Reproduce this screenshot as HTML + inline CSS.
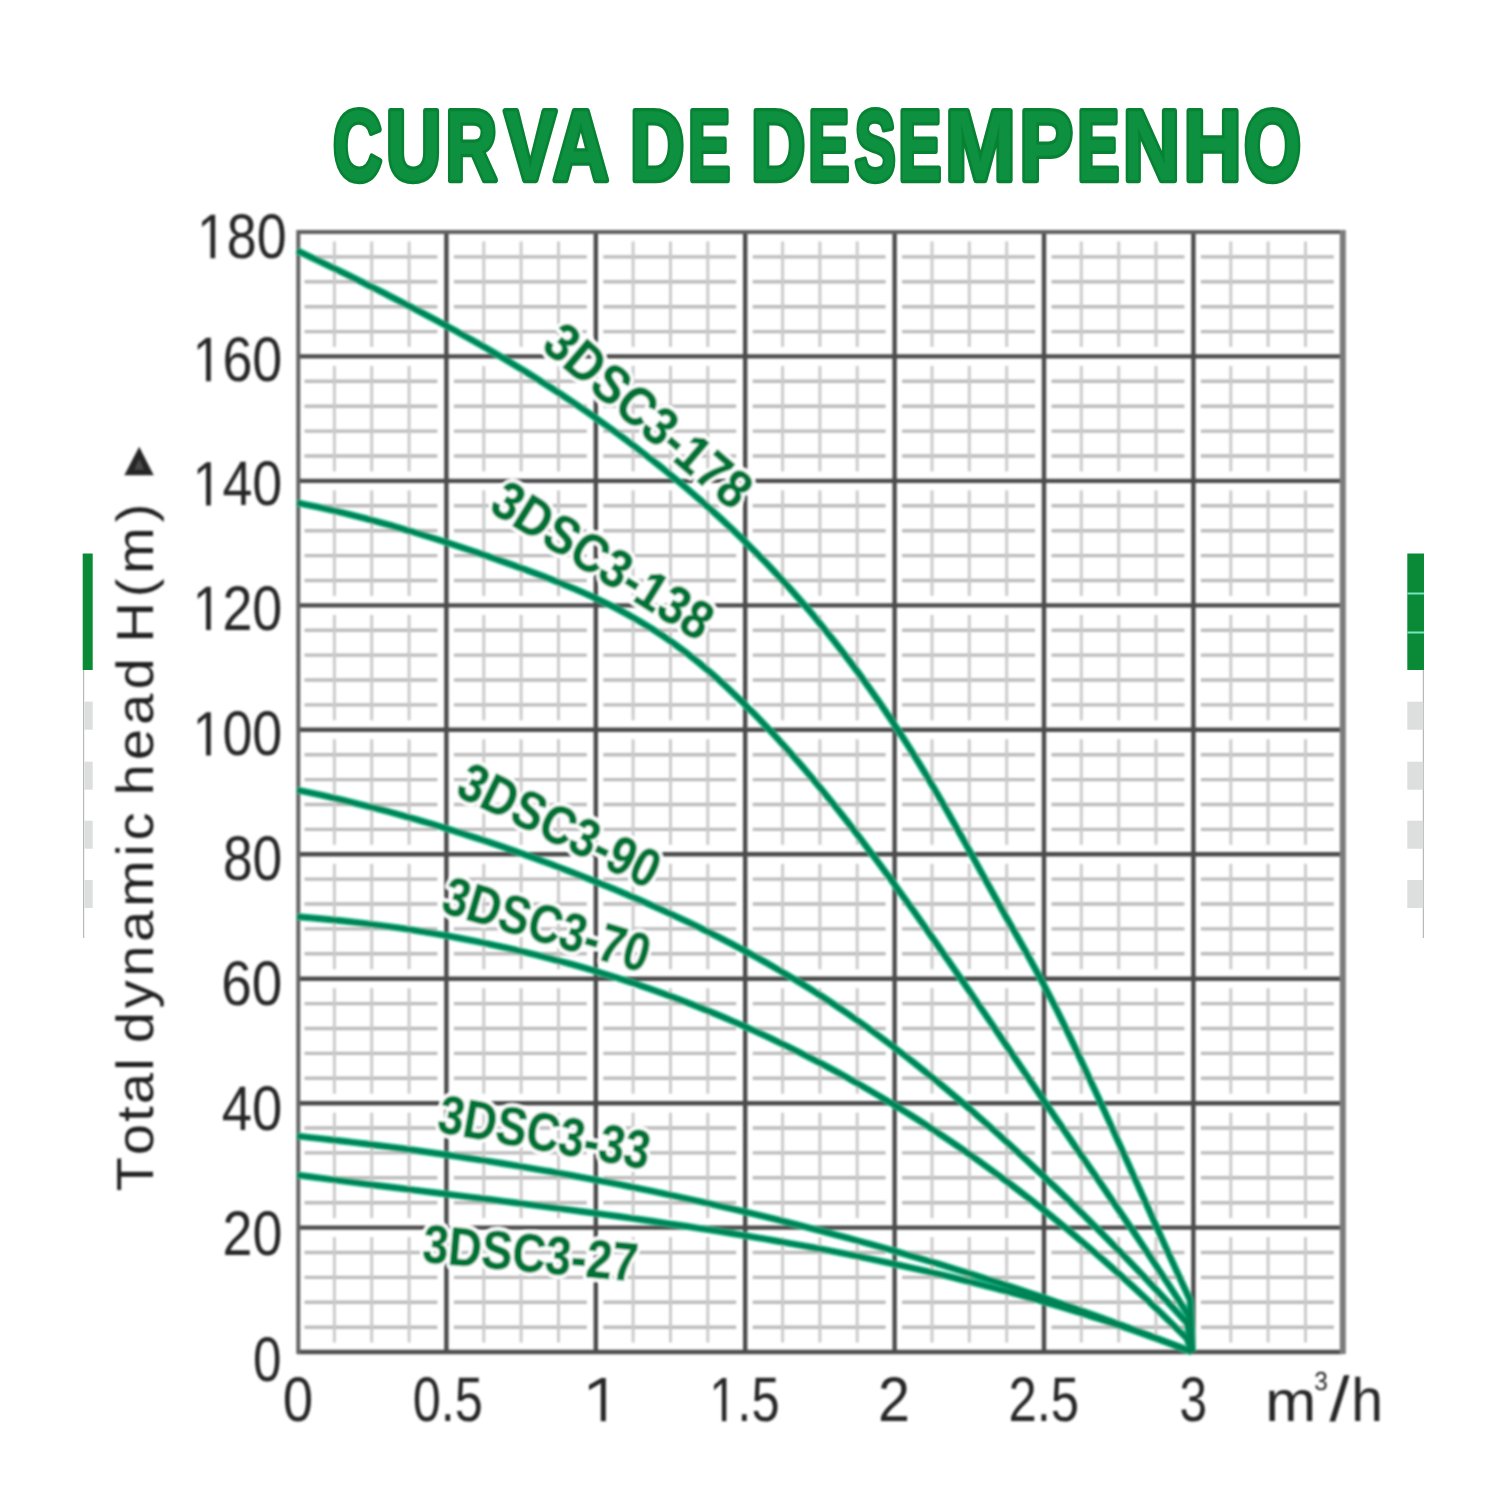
<!DOCTYPE html>
<html><head><meta charset="utf-8"><title>Curva de desempenho</title>
<style>html,body{margin:0;padding:0;background:#fff;}body{width:1500px;height:1500px;overflow:hidden;font-family:"Liberation Sans",sans-serif;}svg{display:block;}text{font-family:"Liberation Sans",sans-serif;font-kerning:none;text-rendering:geometricPrecision;}</style></head><body>
<svg width="1500" height="1500" viewBox="0 0 1500 1500">
<defs><filter id="soft" x="0" y="0" width="1500" height="1500" filterUnits="userSpaceOnUse"><feGaussianBlur stdDeviation="0.8"/></filter></defs>
<rect width="1500" height="1500" fill="#fff"/>
<g filter="url(#soft)">
<g id="grid" fill="none">
<g stroke="#bbbbbb" stroke-width="3.4">
<path d="M304.5 256.9H437.4"/>
<path d="M453.9 256.9H586.8"/>
<path d="M603.3 256.9H736.2"/>
<path d="M752.7 256.9H885.6"/>
<path d="M902.1 256.9H1035.0"/>
<path d="M1051.5 256.9H1184.4"/>
<path d="M1200.9 256.9H1333.8"/>
<path d="M304.5 281.8H437.4"/>
<path d="M453.9 281.8H586.8"/>
<path d="M603.3 281.8H736.2"/>
<path d="M752.7 281.8H885.6"/>
<path d="M902.1 281.8H1035.0"/>
<path d="M1051.5 281.8H1184.4"/>
<path d="M1200.9 281.8H1333.8"/>
<path d="M304.5 306.7H437.4"/>
<path d="M453.9 306.7H586.8"/>
<path d="M603.3 306.7H736.2"/>
<path d="M752.7 306.7H885.6"/>
<path d="M902.1 306.7H1035.0"/>
<path d="M1051.5 306.7H1184.4"/>
<path d="M1200.9 306.7H1333.8"/>
<path d="M304.5 331.6H437.4"/>
<path d="M453.9 331.6H586.8"/>
<path d="M603.3 331.6H736.2"/>
<path d="M752.7 331.6H885.6"/>
<path d="M902.1 331.6H1035.0"/>
<path d="M1051.5 331.6H1184.4"/>
<path d="M1200.9 331.6H1333.8"/>
<path d="M304.5 381.3H437.4"/>
<path d="M453.9 381.3H586.8"/>
<path d="M603.3 381.3H736.2"/>
<path d="M752.7 381.3H885.6"/>
<path d="M902.1 381.3H1035.0"/>
<path d="M1051.5 381.3H1184.4"/>
<path d="M1200.9 381.3H1333.8"/>
<path d="M304.5 406.2H437.4"/>
<path d="M453.9 406.2H586.8"/>
<path d="M603.3 406.2H736.2"/>
<path d="M752.7 406.2H885.6"/>
<path d="M902.1 406.2H1035.0"/>
<path d="M1051.5 406.2H1184.4"/>
<path d="M1200.9 406.2H1333.8"/>
<path d="M304.5 431.1H437.4"/>
<path d="M453.9 431.1H586.8"/>
<path d="M603.3 431.1H736.2"/>
<path d="M752.7 431.1H885.6"/>
<path d="M902.1 431.1H1035.0"/>
<path d="M1051.5 431.1H1184.4"/>
<path d="M1200.9 431.1H1333.8"/>
<path d="M304.5 456.0H437.4"/>
<path d="M453.9 456.0H586.8"/>
<path d="M603.3 456.0H736.2"/>
<path d="M752.7 456.0H885.6"/>
<path d="M902.1 456.0H1035.0"/>
<path d="M1051.5 456.0H1184.4"/>
<path d="M1200.9 456.0H1333.8"/>
<path d="M304.5 505.8H437.4"/>
<path d="M453.9 505.8H586.8"/>
<path d="M603.3 505.8H736.2"/>
<path d="M752.7 505.8H885.6"/>
<path d="M902.1 505.8H1035.0"/>
<path d="M1051.5 505.8H1184.4"/>
<path d="M1200.9 505.8H1333.8"/>
<path d="M304.5 530.7H437.4"/>
<path d="M453.9 530.7H586.8"/>
<path d="M603.3 530.7H736.2"/>
<path d="M752.7 530.7H885.6"/>
<path d="M902.1 530.7H1035.0"/>
<path d="M1051.5 530.7H1184.4"/>
<path d="M1200.9 530.7H1333.8"/>
<path d="M304.5 555.6H437.4"/>
<path d="M453.9 555.6H586.8"/>
<path d="M603.3 555.6H736.2"/>
<path d="M752.7 555.6H885.6"/>
<path d="M902.1 555.6H1035.0"/>
<path d="M1051.5 555.6H1184.4"/>
<path d="M1200.9 555.6H1333.8"/>
<path d="M304.5 580.5H437.4"/>
<path d="M453.9 580.5H586.8"/>
<path d="M603.3 580.5H736.2"/>
<path d="M752.7 580.5H885.6"/>
<path d="M902.1 580.5H1035.0"/>
<path d="M1051.5 580.5H1184.4"/>
<path d="M1200.9 580.5H1333.8"/>
<path d="M304.5 630.2H437.4"/>
<path d="M453.9 630.2H586.8"/>
<path d="M603.3 630.2H736.2"/>
<path d="M752.7 630.2H885.6"/>
<path d="M902.1 630.2H1035.0"/>
<path d="M1051.5 630.2H1184.4"/>
<path d="M1200.9 630.2H1333.8"/>
<path d="M304.5 655.1H437.4"/>
<path d="M453.9 655.1H586.8"/>
<path d="M603.3 655.1H736.2"/>
<path d="M752.7 655.1H885.6"/>
<path d="M902.1 655.1H1035.0"/>
<path d="M1051.5 655.1H1184.4"/>
<path d="M1200.9 655.1H1333.8"/>
<path d="M304.5 680.0H437.4"/>
<path d="M453.9 680.0H586.8"/>
<path d="M603.3 680.0H736.2"/>
<path d="M752.7 680.0H885.6"/>
<path d="M902.1 680.0H1035.0"/>
<path d="M1051.5 680.0H1184.4"/>
<path d="M1200.9 680.0H1333.8"/>
<path d="M304.5 704.9H437.4"/>
<path d="M453.9 704.9H586.8"/>
<path d="M603.3 704.9H736.2"/>
<path d="M752.7 704.9H885.6"/>
<path d="M902.1 704.9H1035.0"/>
<path d="M1051.5 704.9H1184.4"/>
<path d="M1200.9 704.9H1333.8"/>
<path d="M304.5 754.7H437.4"/>
<path d="M453.9 754.7H586.8"/>
<path d="M603.3 754.7H736.2"/>
<path d="M752.7 754.7H885.6"/>
<path d="M902.1 754.7H1035.0"/>
<path d="M1051.5 754.7H1184.4"/>
<path d="M1200.9 754.7H1333.8"/>
<path d="M304.5 779.6H437.4"/>
<path d="M453.9 779.6H586.8"/>
<path d="M603.3 779.6H736.2"/>
<path d="M752.7 779.6H885.6"/>
<path d="M902.1 779.6H1035.0"/>
<path d="M1051.5 779.6H1184.4"/>
<path d="M1200.9 779.6H1333.8"/>
<path d="M304.5 804.5H437.4"/>
<path d="M453.9 804.5H586.8"/>
<path d="M603.3 804.5H736.2"/>
<path d="M752.7 804.5H885.6"/>
<path d="M902.1 804.5H1035.0"/>
<path d="M1051.5 804.5H1184.4"/>
<path d="M1200.9 804.5H1333.8"/>
<path d="M304.5 829.4H437.4"/>
<path d="M453.9 829.4H586.8"/>
<path d="M603.3 829.4H736.2"/>
<path d="M752.7 829.4H885.6"/>
<path d="M902.1 829.4H1035.0"/>
<path d="M1051.5 829.4H1184.4"/>
<path d="M1200.9 829.4H1333.8"/>
<path d="M304.5 879.1H437.4"/>
<path d="M453.9 879.1H586.8"/>
<path d="M603.3 879.1H736.2"/>
<path d="M752.7 879.1H885.6"/>
<path d="M902.1 879.1H1035.0"/>
<path d="M1051.5 879.1H1184.4"/>
<path d="M1200.9 879.1H1333.8"/>
<path d="M304.5 904.0H437.4"/>
<path d="M453.9 904.0H586.8"/>
<path d="M603.3 904.0H736.2"/>
<path d="M752.7 904.0H885.6"/>
<path d="M902.1 904.0H1035.0"/>
<path d="M1051.5 904.0H1184.4"/>
<path d="M1200.9 904.0H1333.8"/>
<path d="M304.5 928.9H437.4"/>
<path d="M453.9 928.9H586.8"/>
<path d="M603.3 928.9H736.2"/>
<path d="M752.7 928.9H885.6"/>
<path d="M902.1 928.9H1035.0"/>
<path d="M1051.5 928.9H1184.4"/>
<path d="M1200.9 928.9H1333.8"/>
<path d="M304.5 953.8H437.4"/>
<path d="M453.9 953.8H586.8"/>
<path d="M603.3 953.8H736.2"/>
<path d="M752.7 953.8H885.6"/>
<path d="M902.1 953.8H1035.0"/>
<path d="M1051.5 953.8H1184.4"/>
<path d="M1200.9 953.8H1333.8"/>
<path d="M304.5 1003.6H437.4"/>
<path d="M453.9 1003.6H586.8"/>
<path d="M603.3 1003.6H736.2"/>
<path d="M752.7 1003.6H885.6"/>
<path d="M902.1 1003.6H1035.0"/>
<path d="M1051.5 1003.6H1184.4"/>
<path d="M1200.9 1003.6H1333.8"/>
<path d="M304.5 1028.5H437.4"/>
<path d="M453.9 1028.5H586.8"/>
<path d="M603.3 1028.5H736.2"/>
<path d="M752.7 1028.5H885.6"/>
<path d="M902.1 1028.5H1035.0"/>
<path d="M1051.5 1028.5H1184.4"/>
<path d="M1200.9 1028.5H1333.8"/>
<path d="M304.5 1053.4H437.4"/>
<path d="M453.9 1053.4H586.8"/>
<path d="M603.3 1053.4H736.2"/>
<path d="M752.7 1053.4H885.6"/>
<path d="M902.1 1053.4H1035.0"/>
<path d="M1051.5 1053.4H1184.4"/>
<path d="M1200.9 1053.4H1333.8"/>
<path d="M304.5 1078.3H437.4"/>
<path d="M453.9 1078.3H586.8"/>
<path d="M603.3 1078.3H736.2"/>
<path d="M752.7 1078.3H885.6"/>
<path d="M902.1 1078.3H1035.0"/>
<path d="M1051.5 1078.3H1184.4"/>
<path d="M1200.9 1078.3H1333.8"/>
<path d="M304.5 1128.0H437.4"/>
<path d="M453.9 1128.0H586.8"/>
<path d="M603.3 1128.0H736.2"/>
<path d="M752.7 1128.0H885.6"/>
<path d="M902.1 1128.0H1035.0"/>
<path d="M1051.5 1128.0H1184.4"/>
<path d="M1200.9 1128.0H1333.8"/>
<path d="M304.5 1152.9H437.4"/>
<path d="M453.9 1152.9H586.8"/>
<path d="M603.3 1152.9H736.2"/>
<path d="M752.7 1152.9H885.6"/>
<path d="M902.1 1152.9H1035.0"/>
<path d="M1051.5 1152.9H1184.4"/>
<path d="M1200.9 1152.9H1333.8"/>
<path d="M304.5 1177.8H437.4"/>
<path d="M453.9 1177.8H586.8"/>
<path d="M603.3 1177.8H736.2"/>
<path d="M752.7 1177.8H885.6"/>
<path d="M902.1 1177.8H1035.0"/>
<path d="M1051.5 1177.8H1184.4"/>
<path d="M1200.9 1177.8H1333.8"/>
<path d="M304.5 1202.7H437.4"/>
<path d="M453.9 1202.7H586.8"/>
<path d="M603.3 1202.7H736.2"/>
<path d="M752.7 1202.7H885.6"/>
<path d="M902.1 1202.7H1035.0"/>
<path d="M1051.5 1202.7H1184.4"/>
<path d="M1200.9 1202.7H1333.8"/>
<path d="M304.5 1252.5H437.4"/>
<path d="M453.9 1252.5H586.8"/>
<path d="M603.3 1252.5H736.2"/>
<path d="M752.7 1252.5H885.6"/>
<path d="M902.1 1252.5H1035.0"/>
<path d="M1051.5 1252.5H1184.4"/>
<path d="M1200.9 1252.5H1333.8"/>
<path d="M304.5 1277.4H437.4"/>
<path d="M453.9 1277.4H586.8"/>
<path d="M603.3 1277.4H736.2"/>
<path d="M752.7 1277.4H885.6"/>
<path d="M902.1 1277.4H1035.0"/>
<path d="M1051.5 1277.4H1184.4"/>
<path d="M1200.9 1277.4H1333.8"/>
<path d="M304.5 1302.3H437.4"/>
<path d="M453.9 1302.3H586.8"/>
<path d="M603.3 1302.3H736.2"/>
<path d="M752.7 1302.3H885.6"/>
<path d="M902.1 1302.3H1035.0"/>
<path d="M1051.5 1302.3H1184.4"/>
<path d="M1200.9 1302.3H1333.8"/>
<path d="M304.5 1327.2H437.4"/>
<path d="M453.9 1327.2H586.8"/>
<path d="M603.3 1327.2H736.2"/>
<path d="M752.7 1327.2H885.6"/>
<path d="M902.1 1327.2H1035.0"/>
<path d="M1051.5 1327.2H1184.4"/>
<path d="M1200.9 1327.2H1333.8"/>
</g>
<g stroke="#cbcbcb" stroke-width="3">
<path d="M334.4 241.5V346.9"/>
<path d="M334.4 365.9V471.4"/>
<path d="M334.4 490.4V595.9"/>
<path d="M334.4 614.9V720.3"/>
<path d="M334.4 739.3V844.8"/>
<path d="M334.4 863.8V969.2"/>
<path d="M334.4 988.2V1093.7"/>
<path d="M334.4 1112.7V1218.1"/>
<path d="M334.4 1237.1V1342.5"/>
<path d="M371.7 241.5V346.9"/>
<path d="M371.7 365.9V471.4"/>
<path d="M371.7 490.4V595.9"/>
<path d="M371.7 614.9V720.3"/>
<path d="M371.7 739.3V844.8"/>
<path d="M371.7 863.8V969.2"/>
<path d="M371.7 988.2V1093.7"/>
<path d="M371.7 1112.7V1218.1"/>
<path d="M371.7 1237.1V1342.5"/>
<path d="M409.1 241.5V346.9"/>
<path d="M409.1 365.9V471.4"/>
<path d="M409.1 490.4V595.9"/>
<path d="M409.1 614.9V720.3"/>
<path d="M409.1 739.3V844.8"/>
<path d="M409.1 863.8V969.2"/>
<path d="M409.1 988.2V1093.7"/>
<path d="M409.1 1112.7V1218.1"/>
<path d="M409.1 1237.1V1342.5"/>
<path d="M483.8 241.5V346.9"/>
<path d="M483.8 365.9V471.4"/>
<path d="M483.8 490.4V595.9"/>
<path d="M483.8 614.9V720.3"/>
<path d="M483.8 739.3V844.8"/>
<path d="M483.8 863.8V969.2"/>
<path d="M483.8 988.2V1093.7"/>
<path d="M483.8 1112.7V1218.1"/>
<path d="M483.8 1237.1V1342.5"/>
<path d="M521.1 241.5V346.9"/>
<path d="M521.1 365.9V471.4"/>
<path d="M521.1 490.4V595.9"/>
<path d="M521.1 614.9V720.3"/>
<path d="M521.1 739.3V844.8"/>
<path d="M521.1 863.8V969.2"/>
<path d="M521.1 988.2V1093.7"/>
<path d="M521.1 1112.7V1218.1"/>
<path d="M521.1 1237.1V1342.5"/>
<path d="M558.5 241.5V346.9"/>
<path d="M558.5 365.9V471.4"/>
<path d="M558.5 490.4V595.9"/>
<path d="M558.5 614.9V720.3"/>
<path d="M558.5 739.3V844.8"/>
<path d="M558.5 863.8V969.2"/>
<path d="M558.5 988.2V1093.7"/>
<path d="M558.5 1112.7V1218.1"/>
<path d="M558.5 1237.1V1342.5"/>
<path d="M633.1 241.5V346.9"/>
<path d="M633.1 365.9V471.4"/>
<path d="M633.1 490.4V595.9"/>
<path d="M633.1 614.9V720.3"/>
<path d="M633.1 739.3V844.8"/>
<path d="M633.1 863.8V969.2"/>
<path d="M633.1 988.2V1093.7"/>
<path d="M633.1 1112.7V1218.1"/>
<path d="M633.1 1237.1V1342.5"/>
<path d="M670.5 241.5V346.9"/>
<path d="M670.5 365.9V471.4"/>
<path d="M670.5 490.4V595.9"/>
<path d="M670.5 614.9V720.3"/>
<path d="M670.5 739.3V844.8"/>
<path d="M670.5 863.8V969.2"/>
<path d="M670.5 988.2V1093.7"/>
<path d="M670.5 1112.7V1218.1"/>
<path d="M670.5 1237.1V1342.5"/>
<path d="M707.8 241.5V346.9"/>
<path d="M707.8 365.9V471.4"/>
<path d="M707.8 490.4V595.9"/>
<path d="M707.8 614.9V720.3"/>
<path d="M707.8 739.3V844.8"/>
<path d="M707.8 863.8V969.2"/>
<path d="M707.8 988.2V1093.7"/>
<path d="M707.8 1112.7V1218.1"/>
<path d="M707.8 1237.1V1342.5"/>
<path d="M782.6 241.5V346.9"/>
<path d="M782.6 365.9V471.4"/>
<path d="M782.6 490.4V595.9"/>
<path d="M782.6 614.9V720.3"/>
<path d="M782.6 739.3V844.8"/>
<path d="M782.6 863.8V969.2"/>
<path d="M782.6 988.2V1093.7"/>
<path d="M782.6 1112.7V1218.1"/>
<path d="M782.6 1237.1V1342.5"/>
<path d="M819.9 241.5V346.9"/>
<path d="M819.9 365.9V471.4"/>
<path d="M819.9 490.4V595.9"/>
<path d="M819.9 614.9V720.3"/>
<path d="M819.9 739.3V844.8"/>
<path d="M819.9 863.8V969.2"/>
<path d="M819.9 988.2V1093.7"/>
<path d="M819.9 1112.7V1218.1"/>
<path d="M819.9 1237.1V1342.5"/>
<path d="M857.2 241.5V346.9"/>
<path d="M857.2 365.9V471.4"/>
<path d="M857.2 490.4V595.9"/>
<path d="M857.2 614.9V720.3"/>
<path d="M857.2 739.3V844.8"/>
<path d="M857.2 863.8V969.2"/>
<path d="M857.2 988.2V1093.7"/>
<path d="M857.2 1112.7V1218.1"/>
<path d="M857.2 1237.1V1342.5"/>
<path d="M932.0 241.5V346.9"/>
<path d="M932.0 365.9V471.4"/>
<path d="M932.0 490.4V595.9"/>
<path d="M932.0 614.9V720.3"/>
<path d="M932.0 739.3V844.8"/>
<path d="M932.0 863.8V969.2"/>
<path d="M932.0 988.2V1093.7"/>
<path d="M932.0 1112.7V1218.1"/>
<path d="M932.0 1237.1V1342.5"/>
<path d="M969.3 241.5V346.9"/>
<path d="M969.3 365.9V471.4"/>
<path d="M969.3 490.4V595.9"/>
<path d="M969.3 614.9V720.3"/>
<path d="M969.3 739.3V844.8"/>
<path d="M969.3 863.8V969.2"/>
<path d="M969.3 988.2V1093.7"/>
<path d="M969.3 1112.7V1218.1"/>
<path d="M969.3 1237.1V1342.5"/>
<path d="M1006.7 241.5V346.9"/>
<path d="M1006.7 365.9V471.4"/>
<path d="M1006.7 490.4V595.9"/>
<path d="M1006.7 614.9V720.3"/>
<path d="M1006.7 739.3V844.8"/>
<path d="M1006.7 863.8V969.2"/>
<path d="M1006.7 988.2V1093.7"/>
<path d="M1006.7 1112.7V1218.1"/>
<path d="M1006.7 1237.1V1342.5"/>
<path d="M1081.3 241.5V346.9"/>
<path d="M1081.3 365.9V471.4"/>
<path d="M1081.3 490.4V595.9"/>
<path d="M1081.3 614.9V720.3"/>
<path d="M1081.3 739.3V844.8"/>
<path d="M1081.3 863.8V969.2"/>
<path d="M1081.3 988.2V1093.7"/>
<path d="M1081.3 1112.7V1218.1"/>
<path d="M1081.3 1237.1V1342.5"/>
<path d="M1118.7 241.5V346.9"/>
<path d="M1118.7 365.9V471.4"/>
<path d="M1118.7 490.4V595.9"/>
<path d="M1118.7 614.9V720.3"/>
<path d="M1118.7 739.3V844.8"/>
<path d="M1118.7 863.8V969.2"/>
<path d="M1118.7 988.2V1093.7"/>
<path d="M1118.7 1112.7V1218.1"/>
<path d="M1118.7 1237.1V1342.5"/>
<path d="M1156.0 241.5V346.9"/>
<path d="M1156.0 365.9V471.4"/>
<path d="M1156.0 490.4V595.9"/>
<path d="M1156.0 614.9V720.3"/>
<path d="M1156.0 739.3V844.8"/>
<path d="M1156.0 863.8V969.2"/>
<path d="M1156.0 988.2V1093.7"/>
<path d="M1156.0 1112.7V1218.1"/>
<path d="M1156.0 1237.1V1342.5"/>
<path d="M1230.8 241.5V346.9"/>
<path d="M1230.8 365.9V471.4"/>
<path d="M1230.8 490.4V595.9"/>
<path d="M1230.8 614.9V720.3"/>
<path d="M1230.8 739.3V844.8"/>
<path d="M1230.8 863.8V969.2"/>
<path d="M1230.8 988.2V1093.7"/>
<path d="M1230.8 1112.7V1218.1"/>
<path d="M1230.8 1237.1V1342.5"/>
<path d="M1268.1 241.5V346.9"/>
<path d="M1268.1 365.9V471.4"/>
<path d="M1268.1 490.4V595.9"/>
<path d="M1268.1 614.9V720.3"/>
<path d="M1268.1 739.3V844.8"/>
<path d="M1268.1 863.8V969.2"/>
<path d="M1268.1 988.2V1093.7"/>
<path d="M1268.1 1112.7V1218.1"/>
<path d="M1268.1 1237.1V1342.5"/>
<path d="M1305.5 241.5V346.9"/>
<path d="M1305.5 365.9V471.4"/>
<path d="M1305.5 490.4V595.9"/>
<path d="M1305.5 614.9V720.3"/>
<path d="M1305.5 739.3V844.8"/>
<path d="M1305.5 863.8V969.2"/>
<path d="M1305.5 988.2V1093.7"/>
<path d="M1305.5 1112.7V1218.1"/>
<path d="M1305.5 1237.1V1342.5"/>
</g>
<g stroke="#4c4c4c" stroke-width="4.4">
<path d="M446.4 232.0V1352.0"/>
<path d="M595.8 232.0V1352.0"/>
<path d="M745.2 232.0V1352.0"/>
<path d="M894.6 232.0V1352.0"/>
<path d="M1044.0 232.0V1352.0"/>
<path d="M1193.4 232.0V1352.0"/>
<path d="M297.0 356.4H1342.8"/>
<path d="M297.0 480.9H1342.8"/>
<path d="M297.0 605.4H1342.8"/>
<path d="M297.0 729.8H1342.8"/>
<path d="M297.0 854.2H1342.8"/>
<path d="M297.0 978.7H1342.8"/>
<path d="M297.0 1103.2H1342.8"/>
<path d="M297.0 1227.6H1342.8"/>
</g>
<path d="M297.0 232.0H1342.8" stroke="#606060" stroke-width="4.2"/>
<path d="M297.0 1352.0H1342.8" stroke="#4e4e4e" stroke-width="4.5"/>
<path d="M298.3 230.0V1354.0" stroke="#646464" stroke-width="4"/>
<path d="M1342.8 230.0V1354.0" stroke="#7c7c7c" stroke-width="6"/>
</g>
<g id="curves" fill="none" stroke-linecap="butt" stroke-linejoin="round">
<g stroke="#14b384" stroke-width="7.2">
<path d="M297.0 250.5C300.8 252.3 312.3 257.8 319.9 261.5C327.5 265.2 335.2 268.9 342.8 272.6C350.4 276.4 358.1 280.1 365.7 284.0C373.3 287.8 381.0 291.6 388.6 295.5C396.2 299.4 403.9 303.3 411.5 307.3C419.1 311.2 426.8 315.3 434.4 319.4C442.0 323.4 449.6 327.6 457.3 331.8C464.9 336.0 472.5 340.3 480.2 344.7C487.8 349.1 495.4 353.5 503.1 358.1C510.7 362.6 518.3 367.2 526.0 371.9C533.6 376.7 541.2 381.5 548.9 386.4C556.5 391.3 564.1 396.3 571.8 401.5C579.4 406.6 587.0 411.8 594.7 417.2C602.3 422.6 609.9 428.1 617.6 433.7C625.2 439.3 632.8 445.1 640.5 451.0C648.1 456.8 655.7 462.9 663.4 469.0C671.0 475.2 678.6 481.5 686.3 488.0C693.9 494.5 701.5 501.1 709.2 508.0C716.8 514.8 724.4 521.8 732.1 529.1C739.7 536.3 747.3 543.8 754.9 551.5C762.6 559.2 770.2 567.1 777.8 575.3C785.5 583.5 793.1 591.9 800.7 600.7C808.4 609.5 816.0 618.5 823.6 627.9C831.3 637.3 838.9 646.9 846.5 657.0C854.2 667.0 861.8 677.3 869.4 688.1C877.1 698.8 884.7 709.9 892.3 721.4C900.0 732.9 907.6 744.7 915.2 757.0C922.9 769.4 930.5 782.1 938.1 795.2C945.8 808.3 953.4 822.0 961.0 835.6C968.7 849.2 976.3 863.3 983.9 877.0C991.6 890.8 999.2 904.6 1006.8 918.2C1014.5 931.8 1022.1 944.8 1029.7 958.7C1037.4 972.7 1045.0 986.7 1052.6 1001.7C1060.2 1016.6 1067.9 1032.4 1075.5 1048.4C1083.1 1064.4 1090.8 1081.0 1098.4 1097.7C1106.0 1114.3 1113.7 1131.3 1121.3 1148.3C1128.9 1165.2 1136.6 1182.4 1144.2 1199.4C1151.8 1216.4 1159.5 1233.4 1167.1 1250.2C1174.7 1267.0 1186.2 1291.7 1190.0 1300.0L1192.3 1352"/>
<path d="M297.0 502.7C300.8 503.5 312.2 505.8 319.9 507.5C327.5 509.2 335.1 511.0 342.7 512.8C350.3 514.7 357.9 516.6 365.6 518.6C373.2 520.6 380.8 522.7 388.4 524.8C396.0 526.9 403.7 529.2 411.3 531.4C418.9 533.7 426.5 536.0 434.1 538.4C441.7 540.8 449.4 543.3 457.0 545.8C464.6 548.3 472.2 550.9 479.8 553.5C487.4 556.1 495.1 558.8 502.7 561.5C510.3 564.2 517.9 566.9 525.5 569.7C533.2 572.6 540.8 575.4 548.4 578.3C556.0 581.3 563.6 584.3 571.2 587.5C578.9 590.7 586.5 594.0 594.1 597.5C601.7 601.1 609.3 604.7 617.0 608.7C624.6 612.7 632.2 616.9 639.8 621.4C647.4 625.9 655.0 630.6 662.7 635.8C670.3 640.9 677.9 646.4 685.5 652.2C693.1 658.1 700.8 664.3 708.4 670.8C716.0 677.3 723.6 684.2 731.2 691.3C738.8 698.5 746.5 706.0 754.1 713.7C761.7 721.5 769.3 729.6 776.9 737.9C784.5 746.2 792.2 754.8 799.8 763.6C807.4 772.4 815.0 781.5 822.6 790.8C830.3 800.1 837.9 809.6 845.5 819.3C853.1 829.0 860.7 839.0 868.3 849.1C876.0 859.2 883.6 869.5 891.2 879.9C898.8 890.3 906.4 900.9 914.1 911.6C921.7 922.3 929.3 933.2 936.9 944.1C944.5 955.0 952.1 966.1 959.8 977.1C967.4 988.2 975.0 999.4 982.6 1010.5C990.2 1021.7 997.9 1032.9 1005.5 1044.1C1013.1 1055.4 1020.7 1066.6 1028.3 1077.8C1035.9 1089.0 1043.6 1100.2 1051.2 1111.3C1058.8 1122.4 1066.4 1133.5 1074.0 1144.6C1081.6 1155.7 1089.3 1166.8 1096.9 1177.9C1104.5 1189.0 1112.1 1200.2 1119.7 1211.4C1127.4 1222.6 1135.0 1233.9 1142.6 1245.3C1150.2 1256.6 1157.8 1268.1 1165.4 1279.7C1173.1 1291.3 1184.5 1309.1 1188.3 1314.9L1192.3 1352"/>
<path d="M297.0 790.0C300.8 790.8 312.2 793.2 319.8 794.8C327.4 796.5 335.0 798.3 342.6 800.1C350.2 801.9 357.9 803.8 365.5 805.7C373.1 807.6 380.7 809.6 388.3 811.6C395.9 813.7 403.5 815.8 411.1 818.0C418.7 820.1 426.3 822.4 433.9 824.6C441.5 826.9 449.1 829.3 456.7 831.7C464.4 834.1 472.0 836.5 479.6 839.0C487.2 841.5 494.8 844.1 502.4 846.7C510.0 849.3 517.6 852.0 525.2 854.8C532.8 857.5 540.4 860.3 548.0 863.1C555.6 866.0 563.2 868.9 570.8 871.8C578.5 874.8 586.1 877.8 593.7 880.8C601.3 883.9 608.9 887.0 616.5 890.2C624.1 893.4 631.7 896.6 639.3 899.9C646.9 903.2 654.5 906.6 662.1 910.0C669.7 913.5 677.3 917.0 684.9 920.6C692.6 924.2 700.2 927.9 707.8 931.7C715.4 935.4 723.0 939.3 730.6 943.3C738.2 947.3 745.8 951.4 753.4 955.5C761.0 959.7 768.6 964.0 776.2 968.5C783.8 972.9 791.4 977.4 799.1 982.1C806.7 986.7 814.3 991.5 821.9 996.4C829.5 1001.4 837.1 1006.4 844.7 1011.6C852.3 1016.8 859.9 1022.2 867.5 1027.6C875.1 1033.1 882.7 1038.7 890.3 1044.5C897.9 1050.2 905.5 1056.1 913.2 1062.1C920.8 1068.1 928.4 1074.3 936.0 1080.5C943.6 1086.8 951.2 1093.1 958.8 1099.6C966.4 1106.1 974.0 1112.7 981.6 1119.4C989.2 1126.1 996.8 1132.9 1004.4 1139.8C1012.0 1146.7 1019.6 1153.7 1027.3 1160.8C1034.9 1167.9 1042.5 1175.1 1050.1 1182.3C1057.7 1189.6 1065.3 1197.0 1072.9 1204.4C1080.5 1211.9 1088.1 1219.4 1095.7 1227.1C1103.3 1234.7 1110.9 1242.4 1118.5 1250.2C1126.1 1258.0 1133.8 1265.9 1141.4 1273.9C1149.0 1281.9 1156.6 1290.0 1164.2 1298.2C1171.8 1306.3 1183.2 1318.8 1187.0 1323.0L1192.3 1352"/>
<path d="M297.0 916.6C300.8 917.0 312.2 917.9 319.8 918.6C327.4 919.3 335.0 920.1 342.6 920.9C350.2 921.7 357.8 922.6 365.4 923.5C373.0 924.4 380.6 925.4 388.3 926.5C395.9 927.5 403.5 928.6 411.1 929.8C418.7 931.0 426.3 932.2 433.9 933.5C441.5 934.8 449.1 936.1 456.7 937.6C464.3 939.0 471.9 940.5 479.5 942.0C487.1 943.6 494.7 945.2 502.3 946.9C509.9 948.6 517.5 950.3 525.1 952.2C532.7 954.0 540.3 955.9 547.9 957.9C555.5 959.8 563.1 961.9 570.8 964.0C578.4 966.1 586.0 968.3 593.6 970.6C601.2 972.9 608.8 975.2 616.4 977.6C624.0 980.1 631.6 982.6 639.2 985.2C646.8 987.7 654.4 990.4 662.0 993.2C669.6 995.9 677.2 998.7 684.8 1001.7C692.4 1004.6 700.0 1007.6 707.6 1010.7C715.2 1013.8 722.8 1016.9 730.4 1020.2C738.0 1023.5 745.7 1026.8 753.3 1030.3C760.9 1033.7 768.5 1037.3 776.1 1040.9C783.7 1044.5 791.3 1048.2 798.9 1052.1C806.5 1055.9 814.1 1059.8 821.7 1063.8C829.3 1067.8 836.9 1071.9 844.5 1076.1C852.1 1080.3 859.7 1084.6 867.3 1089.0C874.9 1093.4 882.5 1097.9 890.1 1102.5C897.7 1107.1 905.3 1111.8 912.9 1116.6C920.6 1121.4 928.2 1126.4 935.8 1131.4C943.4 1136.4 951.0 1141.5 958.6 1146.8C966.2 1152.0 973.8 1157.3 981.4 1162.8C989.0 1168.3 996.6 1173.8 1004.2 1179.5C1011.8 1185.2 1019.4 1191.0 1027.0 1196.9C1034.6 1202.8 1042.2 1208.8 1049.8 1214.9C1057.4 1221.1 1065.0 1227.3 1072.6 1233.7C1080.2 1240.1 1087.8 1246.5 1095.4 1253.1C1103.1 1259.8 1110.7 1266.5 1118.3 1273.3C1125.9 1280.2 1133.5 1287.1 1141.1 1294.2C1148.7 1301.3 1156.3 1308.6 1163.9 1315.9C1171.5 1323.3 1182.9 1334.6 1186.7 1338.3L1192.3 1352"/>
<path d="M297.0 1136.0C300.8 1136.5 312.3 1137.7 319.9 1138.5C327.6 1139.4 335.2 1140.2 342.9 1141.1C350.5 1142.0 358.2 1143.0 365.8 1143.9C373.5 1144.9 381.1 1145.8 388.8 1146.8C396.4 1147.8 404.1 1148.8 411.7 1149.9C419.4 1150.9 427.0 1152.0 434.7 1153.1C442.3 1154.2 450.0 1155.3 457.6 1156.5C465.3 1157.6 472.9 1158.8 480.6 1160.0C488.2 1161.2 495.9 1162.4 503.5 1163.6C511.2 1164.9 518.8 1166.2 526.5 1167.5C534.1 1168.8 541.8 1170.1 549.4 1171.4C557.1 1172.8 564.7 1174.2 572.4 1175.6C580.0 1177.0 587.7 1178.4 595.3 1179.9C603.0 1181.3 610.6 1182.8 618.3 1184.3C625.9 1185.9 633.6 1187.4 641.2 1189.0C648.9 1190.5 656.5 1192.1 664.2 1193.7C671.8 1195.4 679.5 1197.0 687.1 1198.7C694.8 1200.4 702.4 1202.1 710.1 1203.8C717.7 1205.5 725.4 1207.3 733.0 1209.1C740.7 1210.9 748.3 1212.7 756.0 1214.5C763.6 1216.4 771.3 1218.2 778.9 1220.1C786.6 1222.0 794.2 1224.0 801.9 1225.9C809.5 1227.9 817.2 1229.9 824.8 1231.9C832.5 1233.9 840.1 1236.0 847.8 1238.0C855.4 1240.1 863.1 1242.2 870.7 1244.3C878.4 1246.5 886.0 1248.6 893.7 1250.8C901.3 1253.0 909.0 1255.2 916.6 1257.5C924.3 1259.8 931.9 1262.0 939.6 1264.3C947.2 1266.7 954.9 1269.0 962.5 1271.4C970.2 1273.7 977.8 1276.2 985.5 1278.6C993.1 1281.0 1000.8 1283.5 1008.4 1286.0C1016.1 1288.5 1023.7 1291.0 1031.4 1293.6C1039.0 1296.1 1046.7 1298.7 1054.3 1301.3C1062.0 1303.9 1069.6 1306.6 1077.3 1309.3C1084.9 1312.0 1092.6 1314.7 1100.2 1317.4C1107.9 1320.2 1115.5 1323.0 1123.2 1325.8C1130.8 1328.6 1138.5 1331.4 1146.1 1334.3C1153.8 1337.2 1161.4 1340.1 1169.1 1343.0C1176.7 1345.9 1188.2 1350.4 1192.0 1351.9"/>
<path d="M297.0 1175.0C300.8 1175.5 312.3 1177.0 319.9 1178.0C327.6 1179.0 335.2 1180.0 342.9 1181.0C350.5 1182.0 358.2 1183.0 365.8 1184.0C373.5 1184.9 381.1 1185.9 388.8 1186.9C396.4 1187.8 404.1 1188.8 411.7 1189.8C419.4 1190.7 427.0 1191.7 434.7 1192.6C442.3 1193.6 450.0 1194.5 457.6 1195.5C465.3 1196.5 472.9 1197.4 480.6 1198.4C488.2 1199.3 495.9 1200.3 503.5 1201.3C511.2 1202.2 518.8 1203.2 526.5 1204.2C534.1 1205.2 541.8 1206.2 549.4 1207.2C557.1 1208.2 564.7 1209.2 572.4 1210.2C580.0 1211.2 587.7 1212.2 595.3 1213.3C603.0 1214.3 610.6 1215.3 618.3 1216.4C625.9 1217.5 633.6 1218.5 641.2 1219.6C648.9 1220.7 656.5 1221.8 664.2 1223.0C671.8 1224.1 679.5 1225.2 687.1 1226.4C694.8 1227.6 702.4 1228.8 710.1 1230.0C717.7 1231.2 725.4 1232.4 733.0 1233.6C740.7 1234.9 748.3 1236.2 756.0 1237.5C763.6 1238.7 771.3 1240.1 778.9 1241.4C786.6 1242.8 794.2 1244.1 801.9 1245.5C809.5 1246.9 817.2 1248.4 824.8 1249.8C832.5 1251.3 840.1 1252.8 847.8 1254.3C855.4 1255.8 863.1 1257.4 870.7 1259.0C878.4 1260.6 886.0 1262.2 893.7 1263.9C901.3 1265.5 909.0 1267.2 916.6 1269.0C924.3 1270.7 931.9 1272.5 939.6 1274.3C947.2 1276.1 954.9 1278.0 962.5 1279.9C970.2 1281.8 977.8 1283.7 985.5 1285.7C993.1 1287.7 1000.8 1289.7 1008.4 1291.8C1016.1 1293.9 1023.7 1296.0 1031.4 1298.2C1039.0 1300.4 1046.7 1302.6 1054.3 1304.9C1062.0 1307.2 1069.6 1309.5 1077.3 1311.9C1084.9 1314.3 1092.6 1316.7 1100.2 1319.2C1107.9 1321.7 1115.5 1324.2 1123.2 1326.8C1130.8 1329.4 1138.5 1332.1 1146.1 1334.8C1153.8 1337.5 1161.4 1340.3 1169.1 1343.2C1176.7 1346.0 1188.2 1350.4 1192.0 1351.9"/>
</g><g stroke="#008255" stroke-width="4.7">
<path d="M297.0 250.5C300.8 252.3 312.3 257.8 319.9 261.5C327.5 265.2 335.2 268.9 342.8 272.6C350.4 276.4 358.1 280.1 365.7 284.0C373.3 287.8 381.0 291.6 388.6 295.5C396.2 299.4 403.9 303.3 411.5 307.3C419.1 311.2 426.8 315.3 434.4 319.4C442.0 323.4 449.6 327.6 457.3 331.8C464.9 336.0 472.5 340.3 480.2 344.7C487.8 349.1 495.4 353.5 503.1 358.1C510.7 362.6 518.3 367.2 526.0 371.9C533.6 376.7 541.2 381.5 548.9 386.4C556.5 391.3 564.1 396.3 571.8 401.5C579.4 406.6 587.0 411.8 594.7 417.2C602.3 422.6 609.9 428.1 617.6 433.7C625.2 439.3 632.8 445.1 640.5 451.0C648.1 456.8 655.7 462.9 663.4 469.0C671.0 475.2 678.6 481.5 686.3 488.0C693.9 494.5 701.5 501.1 709.2 508.0C716.8 514.8 724.4 521.8 732.1 529.1C739.7 536.3 747.3 543.8 754.9 551.5C762.6 559.2 770.2 567.1 777.8 575.3C785.5 583.5 793.1 591.9 800.7 600.7C808.4 609.5 816.0 618.5 823.6 627.9C831.3 637.3 838.9 646.9 846.5 657.0C854.2 667.0 861.8 677.3 869.4 688.1C877.1 698.8 884.7 709.9 892.3 721.4C900.0 732.9 907.6 744.7 915.2 757.0C922.9 769.4 930.5 782.1 938.1 795.2C945.8 808.3 953.4 822.0 961.0 835.6C968.7 849.2 976.3 863.3 983.9 877.0C991.6 890.8 999.2 904.6 1006.8 918.2C1014.5 931.8 1022.1 944.8 1029.7 958.7C1037.4 972.7 1045.0 986.7 1052.6 1001.7C1060.2 1016.6 1067.9 1032.4 1075.5 1048.4C1083.1 1064.4 1090.8 1081.0 1098.4 1097.7C1106.0 1114.3 1113.7 1131.3 1121.3 1148.3C1128.9 1165.2 1136.6 1182.4 1144.2 1199.4C1151.8 1216.4 1159.5 1233.4 1167.1 1250.2C1174.7 1267.0 1186.2 1291.7 1190.0 1300.0L1192.3 1352"/>
<path d="M297.0 502.7C300.8 503.5 312.2 505.8 319.9 507.5C327.5 509.2 335.1 511.0 342.7 512.8C350.3 514.7 357.9 516.6 365.6 518.6C373.2 520.6 380.8 522.7 388.4 524.8C396.0 526.9 403.7 529.2 411.3 531.4C418.9 533.7 426.5 536.0 434.1 538.4C441.7 540.8 449.4 543.3 457.0 545.8C464.6 548.3 472.2 550.9 479.8 553.5C487.4 556.1 495.1 558.8 502.7 561.5C510.3 564.2 517.9 566.9 525.5 569.7C533.2 572.6 540.8 575.4 548.4 578.3C556.0 581.3 563.6 584.3 571.2 587.5C578.9 590.7 586.5 594.0 594.1 597.5C601.7 601.1 609.3 604.7 617.0 608.7C624.6 612.7 632.2 616.9 639.8 621.4C647.4 625.9 655.0 630.6 662.7 635.8C670.3 640.9 677.9 646.4 685.5 652.2C693.1 658.1 700.8 664.3 708.4 670.8C716.0 677.3 723.6 684.2 731.2 691.3C738.8 698.5 746.5 706.0 754.1 713.7C761.7 721.5 769.3 729.6 776.9 737.9C784.5 746.2 792.2 754.8 799.8 763.6C807.4 772.4 815.0 781.5 822.6 790.8C830.3 800.1 837.9 809.6 845.5 819.3C853.1 829.0 860.7 839.0 868.3 849.1C876.0 859.2 883.6 869.5 891.2 879.9C898.8 890.3 906.4 900.9 914.1 911.6C921.7 922.3 929.3 933.2 936.9 944.1C944.5 955.0 952.1 966.1 959.8 977.1C967.4 988.2 975.0 999.4 982.6 1010.5C990.2 1021.7 997.9 1032.9 1005.5 1044.1C1013.1 1055.4 1020.7 1066.6 1028.3 1077.8C1035.9 1089.0 1043.6 1100.2 1051.2 1111.3C1058.8 1122.4 1066.4 1133.5 1074.0 1144.6C1081.6 1155.7 1089.3 1166.8 1096.9 1177.9C1104.5 1189.0 1112.1 1200.2 1119.7 1211.4C1127.4 1222.6 1135.0 1233.9 1142.6 1245.3C1150.2 1256.6 1157.8 1268.1 1165.4 1279.7C1173.1 1291.3 1184.5 1309.1 1188.3 1314.9L1192.3 1352"/>
<path d="M297.0 790.0C300.8 790.8 312.2 793.2 319.8 794.8C327.4 796.5 335.0 798.3 342.6 800.1C350.2 801.9 357.9 803.8 365.5 805.7C373.1 807.6 380.7 809.6 388.3 811.6C395.9 813.7 403.5 815.8 411.1 818.0C418.7 820.1 426.3 822.4 433.9 824.6C441.5 826.9 449.1 829.3 456.7 831.7C464.4 834.1 472.0 836.5 479.6 839.0C487.2 841.5 494.8 844.1 502.4 846.7C510.0 849.3 517.6 852.0 525.2 854.8C532.8 857.5 540.4 860.3 548.0 863.1C555.6 866.0 563.2 868.9 570.8 871.8C578.5 874.8 586.1 877.8 593.7 880.8C601.3 883.9 608.9 887.0 616.5 890.2C624.1 893.4 631.7 896.6 639.3 899.9C646.9 903.2 654.5 906.6 662.1 910.0C669.7 913.5 677.3 917.0 684.9 920.6C692.6 924.2 700.2 927.9 707.8 931.7C715.4 935.4 723.0 939.3 730.6 943.3C738.2 947.3 745.8 951.4 753.4 955.5C761.0 959.7 768.6 964.0 776.2 968.5C783.8 972.9 791.4 977.4 799.1 982.1C806.7 986.7 814.3 991.5 821.9 996.4C829.5 1001.4 837.1 1006.4 844.7 1011.6C852.3 1016.8 859.9 1022.2 867.5 1027.6C875.1 1033.1 882.7 1038.7 890.3 1044.5C897.9 1050.2 905.5 1056.1 913.2 1062.1C920.8 1068.1 928.4 1074.3 936.0 1080.5C943.6 1086.8 951.2 1093.1 958.8 1099.6C966.4 1106.1 974.0 1112.7 981.6 1119.4C989.2 1126.1 996.8 1132.9 1004.4 1139.8C1012.0 1146.7 1019.6 1153.7 1027.3 1160.8C1034.9 1167.9 1042.5 1175.1 1050.1 1182.3C1057.7 1189.6 1065.3 1197.0 1072.9 1204.4C1080.5 1211.9 1088.1 1219.4 1095.7 1227.1C1103.3 1234.7 1110.9 1242.4 1118.5 1250.2C1126.1 1258.0 1133.8 1265.9 1141.4 1273.9C1149.0 1281.9 1156.6 1290.0 1164.2 1298.2C1171.8 1306.3 1183.2 1318.8 1187.0 1323.0L1192.3 1352"/>
<path d="M297.0 916.6C300.8 917.0 312.2 917.9 319.8 918.6C327.4 919.3 335.0 920.1 342.6 920.9C350.2 921.7 357.8 922.6 365.4 923.5C373.0 924.4 380.6 925.4 388.3 926.5C395.9 927.5 403.5 928.6 411.1 929.8C418.7 931.0 426.3 932.2 433.9 933.5C441.5 934.8 449.1 936.1 456.7 937.6C464.3 939.0 471.9 940.5 479.5 942.0C487.1 943.6 494.7 945.2 502.3 946.9C509.9 948.6 517.5 950.3 525.1 952.2C532.7 954.0 540.3 955.9 547.9 957.9C555.5 959.8 563.1 961.9 570.8 964.0C578.4 966.1 586.0 968.3 593.6 970.6C601.2 972.9 608.8 975.2 616.4 977.6C624.0 980.1 631.6 982.6 639.2 985.2C646.8 987.7 654.4 990.4 662.0 993.2C669.6 995.9 677.2 998.7 684.8 1001.7C692.4 1004.6 700.0 1007.6 707.6 1010.7C715.2 1013.8 722.8 1016.9 730.4 1020.2C738.0 1023.5 745.7 1026.8 753.3 1030.3C760.9 1033.7 768.5 1037.3 776.1 1040.9C783.7 1044.5 791.3 1048.2 798.9 1052.1C806.5 1055.9 814.1 1059.8 821.7 1063.8C829.3 1067.8 836.9 1071.9 844.5 1076.1C852.1 1080.3 859.7 1084.6 867.3 1089.0C874.9 1093.4 882.5 1097.9 890.1 1102.5C897.7 1107.1 905.3 1111.8 912.9 1116.6C920.6 1121.4 928.2 1126.4 935.8 1131.4C943.4 1136.4 951.0 1141.5 958.6 1146.8C966.2 1152.0 973.8 1157.3 981.4 1162.8C989.0 1168.3 996.6 1173.8 1004.2 1179.5C1011.8 1185.2 1019.4 1191.0 1027.0 1196.9C1034.6 1202.8 1042.2 1208.8 1049.8 1214.9C1057.4 1221.1 1065.0 1227.3 1072.6 1233.7C1080.2 1240.1 1087.8 1246.5 1095.4 1253.1C1103.1 1259.8 1110.7 1266.5 1118.3 1273.3C1125.9 1280.2 1133.5 1287.1 1141.1 1294.2C1148.7 1301.3 1156.3 1308.6 1163.9 1315.9C1171.5 1323.3 1182.9 1334.6 1186.7 1338.3L1192.3 1352"/>
<path d="M297.0 1136.0C300.8 1136.5 312.3 1137.7 319.9 1138.5C327.6 1139.4 335.2 1140.2 342.9 1141.1C350.5 1142.0 358.2 1143.0 365.8 1143.9C373.5 1144.9 381.1 1145.8 388.8 1146.8C396.4 1147.8 404.1 1148.8 411.7 1149.9C419.4 1150.9 427.0 1152.0 434.7 1153.1C442.3 1154.2 450.0 1155.3 457.6 1156.5C465.3 1157.6 472.9 1158.8 480.6 1160.0C488.2 1161.2 495.9 1162.4 503.5 1163.6C511.2 1164.9 518.8 1166.2 526.5 1167.5C534.1 1168.8 541.8 1170.1 549.4 1171.4C557.1 1172.8 564.7 1174.2 572.4 1175.6C580.0 1177.0 587.7 1178.4 595.3 1179.9C603.0 1181.3 610.6 1182.8 618.3 1184.3C625.9 1185.9 633.6 1187.4 641.2 1189.0C648.9 1190.5 656.5 1192.1 664.2 1193.7C671.8 1195.4 679.5 1197.0 687.1 1198.7C694.8 1200.4 702.4 1202.1 710.1 1203.8C717.7 1205.5 725.4 1207.3 733.0 1209.1C740.7 1210.9 748.3 1212.7 756.0 1214.5C763.6 1216.4 771.3 1218.2 778.9 1220.1C786.6 1222.0 794.2 1224.0 801.9 1225.9C809.5 1227.9 817.2 1229.9 824.8 1231.9C832.5 1233.9 840.1 1236.0 847.8 1238.0C855.4 1240.1 863.1 1242.2 870.7 1244.3C878.4 1246.5 886.0 1248.6 893.7 1250.8C901.3 1253.0 909.0 1255.2 916.6 1257.5C924.3 1259.8 931.9 1262.0 939.6 1264.3C947.2 1266.7 954.9 1269.0 962.5 1271.4C970.2 1273.7 977.8 1276.2 985.5 1278.6C993.1 1281.0 1000.8 1283.5 1008.4 1286.0C1016.1 1288.5 1023.7 1291.0 1031.4 1293.6C1039.0 1296.1 1046.7 1298.7 1054.3 1301.3C1062.0 1303.9 1069.6 1306.6 1077.3 1309.3C1084.9 1312.0 1092.6 1314.7 1100.2 1317.4C1107.9 1320.2 1115.5 1323.0 1123.2 1325.8C1130.8 1328.6 1138.5 1331.4 1146.1 1334.3C1153.8 1337.2 1161.4 1340.1 1169.1 1343.0C1176.7 1345.9 1188.2 1350.4 1192.0 1351.9"/>
<path d="M297.0 1175.0C300.8 1175.5 312.3 1177.0 319.9 1178.0C327.6 1179.0 335.2 1180.0 342.9 1181.0C350.5 1182.0 358.2 1183.0 365.8 1184.0C373.5 1184.9 381.1 1185.9 388.8 1186.9C396.4 1187.8 404.1 1188.8 411.7 1189.8C419.4 1190.7 427.0 1191.7 434.7 1192.6C442.3 1193.6 450.0 1194.5 457.6 1195.5C465.3 1196.5 472.9 1197.4 480.6 1198.4C488.2 1199.3 495.9 1200.3 503.5 1201.3C511.2 1202.2 518.8 1203.2 526.5 1204.2C534.1 1205.2 541.8 1206.2 549.4 1207.2C557.1 1208.2 564.7 1209.2 572.4 1210.2C580.0 1211.2 587.7 1212.2 595.3 1213.3C603.0 1214.3 610.6 1215.3 618.3 1216.4C625.9 1217.5 633.6 1218.5 641.2 1219.6C648.9 1220.7 656.5 1221.8 664.2 1223.0C671.8 1224.1 679.5 1225.2 687.1 1226.4C694.8 1227.6 702.4 1228.8 710.1 1230.0C717.7 1231.2 725.4 1232.4 733.0 1233.6C740.7 1234.9 748.3 1236.2 756.0 1237.5C763.6 1238.7 771.3 1240.1 778.9 1241.4C786.6 1242.8 794.2 1244.1 801.9 1245.5C809.5 1246.9 817.2 1248.4 824.8 1249.8C832.5 1251.3 840.1 1252.8 847.8 1254.3C855.4 1255.8 863.1 1257.4 870.7 1259.0C878.4 1260.6 886.0 1262.2 893.7 1263.9C901.3 1265.5 909.0 1267.2 916.6 1269.0C924.3 1270.7 931.9 1272.5 939.6 1274.3C947.2 1276.1 954.9 1278.0 962.5 1279.9C970.2 1281.8 977.8 1283.7 985.5 1285.7C993.1 1287.7 1000.8 1289.7 1008.4 1291.8C1016.1 1293.9 1023.7 1296.0 1031.4 1298.2C1039.0 1300.4 1046.7 1302.6 1054.3 1304.9C1062.0 1307.2 1069.6 1309.5 1077.3 1311.9C1084.9 1314.3 1092.6 1316.7 1100.2 1319.2C1107.9 1321.7 1115.5 1324.2 1123.2 1326.8C1130.8 1329.4 1138.5 1332.1 1146.1 1334.8C1153.8 1337.5 1161.4 1340.3 1169.1 1343.2C1176.7 1346.0 1188.2 1350.4 1192.0 1351.9"/>
</g></g>
<g id="labels" font-size="54" font-weight="bold" stroke-linejoin="round">
<g transform="translate(540.0 347.8) rotate(40.4)"><text textLength="253" lengthAdjust="spacingAndGlyphs" fill="#fff" stroke="#fff" stroke-width="8">3DSC3-178</text><text textLength="253" lengthAdjust="spacingAndGlyphs" fill="#10a86c" stroke="#10a86c" stroke-width="1.2">3DSC3-178</text><text textLength="253" lengthAdjust="spacingAndGlyphs" fill="#007236" stroke="#fff" stroke-width="0" stroke-opacity="0">3DSC3-178</text></g>
<g transform="translate(487.5 510.0) rotate(32.0)"><text textLength="249" lengthAdjust="spacingAndGlyphs" fill="#fff" stroke="#fff" stroke-width="8">3DSC3-138</text><text textLength="249" lengthAdjust="spacingAndGlyphs" fill="#10a86c" stroke="#10a86c" stroke-width="1.2">3DSC3-138</text><text textLength="249" lengthAdjust="spacingAndGlyphs" fill="#007236" stroke="#fff" stroke-width="0" stroke-opacity="0">3DSC3-138</text></g>
<g transform="translate(454.0 794.5) rotate(26.0)"><text textLength="217" lengthAdjust="spacingAndGlyphs" fill="#fff" stroke="#fff" stroke-width="8">3DSC3-90</text><text textLength="217" lengthAdjust="spacingAndGlyphs" fill="#10a86c" stroke="#10a86c" stroke-width="1.2">3DSC3-90</text><text textLength="217" lengthAdjust="spacingAndGlyphs" fill="#007236" stroke="#fff" stroke-width="0" stroke-opacity="0">3DSC3-90</text></g>
<g transform="translate(439.5 911.5) rotate(16.7)"><text textLength="213" lengthAdjust="spacingAndGlyphs" fill="#fff" stroke="#fff" stroke-width="8">3DSC3-70</text><text textLength="213" lengthAdjust="spacingAndGlyphs" fill="#10a86c" stroke="#10a86c" stroke-width="1.2">3DSC3-70</text><text textLength="213" lengthAdjust="spacingAndGlyphs" fill="#007236" stroke="#fff" stroke-width="0" stroke-opacity="0">3DSC3-70</text></g>
<g transform="translate(436.0 1131.5) rotate(10.2)"><text textLength="214" lengthAdjust="spacingAndGlyphs" fill="#fff" stroke="#fff" stroke-width="8">3DSC3-33</text><text textLength="214" lengthAdjust="spacingAndGlyphs" fill="#10a86c" stroke="#10a86c" stroke-width="1.2">3DSC3-33</text><text textLength="214" lengthAdjust="spacingAndGlyphs" fill="#007236" stroke="#fff" stroke-width="0" stroke-opacity="0">3DSC3-33</text></g>
<g transform="translate(421.5 1261.8) rotate(5.2)"><text textLength="215.5" lengthAdjust="spacingAndGlyphs" fill="#fff" stroke="#fff" stroke-width="8">3DSC3-27</text><text textLength="215.5" lengthAdjust="spacingAndGlyphs" fill="#10a86c" stroke="#10a86c" stroke-width="1.2">3DSC3-27</text><text textLength="215.5" lengthAdjust="spacingAndGlyphs" fill="#007236" stroke="#fff" stroke-width="0" stroke-opacity="0">3DSC3-27</text></g>
</g>
<g id="ticks" fill="#282828">
<text transform="translate(196.92 258.17) scale(0.8541 1.0000)" font-size="63" >  80</text><path transform="translate(196.92 258.17) scale(0.02627 -0.03076)" d="M515 0L515 1237L197 1010L197 1180L530 1409L696 1409L696 0Z" />
<text transform="translate(192.52 381.17) scale(0.8541 1.0000)" font-size="63" >  60</text><path transform="translate(192.52 381.17) scale(0.02627 -0.03076)" d="M515 0L515 1237L197 1010L197 1180L530 1409L696 1409L696 0Z" />
<text transform="translate(192.52 505.47) scale(0.8541 1.0000)" font-size="63" >  40</text><path transform="translate(192.52 505.47) scale(0.02627 -0.03076)" d="M515 0L515 1237L197 1010L197 1180L530 1409L696 1409L696 0Z" />
<text transform="translate(192.52 630.07) scale(0.8541 1.0000)" font-size="63" >  20</text><path transform="translate(192.52 630.07) scale(0.02627 -0.03076)" d="M515 0L515 1237L197 1010L197 1180L530 1409L696 1409L696 0Z" />
<text transform="translate(192.52 755.47) scale(0.8541 1.0000)" font-size="63" >  00</text><path transform="translate(192.52 755.47) scale(0.02627 -0.03076)" d="M515 0L515 1237L197 1010L197 1180L530 1409L696 1409L696 0Z" />
<text transform="translate(222.88 880.37) scale(0.8478 1.0000)" font-size="63" >80</text>
<text transform="translate(221.31 1005.07) scale(0.8709 1.0000)" font-size="63" >60</text>
<text transform="translate(221.75 1129.87) scale(0.8645 1.0000)" font-size="63" >40</text>
<text transform="translate(222.50 1255.17) scale(0.8534 1.0000)" font-size="63" >20</text>
<text transform="translate(252.90 1380.67) scale(0.8135 1.0000)" font-size="63" >0</text>
<text transform="translate(282.67 1421.30) scale(0.8667 1.0000)" font-size="63" >0</text>
<text transform="translate(412.73 1421.30) scale(0.8015 1.0000)" font-size="63" >0.5</text>
<path transform="translate(586.53 1421.3) scale(0.02769 -0.03076)" d="M515 0L515 1237L89 1010L89 1180L530 1409L696 1409L696 0Z"/>
<text transform="translate(709.12 1421.30) scale(0.8051 1.0000)" font-size="63" >  .5</text><path transform="translate(709.12 1421.30) scale(0.02477 -0.03076)" d="M515 0L515 1237L197 1010L197 1180L530 1409L696 1409L696 0Z" />
<text transform="translate(878.11 1421.30) scale(0.9129 1.0000)" font-size="63" >2</text>
<text transform="translate(1008.44 1421.30) scale(0.8072 1.0000)" font-size="63" >2.5</text>
<text transform="translate(1179.61 1421.30) scale(0.7868 1.0000)" font-size="63" >3</text>
<text transform="translate(1265.23 1421.30) scale(1.0648 1.0000)" font-size="57.5" >m</text>
<text transform="translate(1314.27 1389.80) scale(0.9410 1.0000)" font-size="26" >3</text>
<text transform="translate(1329.50 1421.30) scale(1.1998 1.0500)" font-size="60" >/</text>
<text transform="translate(1351.34 1421.30) scale(0.9365 1.0000)" font-size="61" >h</text>
</g>
<g transform="translate(152.5 1190) rotate(-90)" fill="#242424">
<text transform="translate(-1.25 0) scale(1.07 1)" font-size="52" style="letter-spacing:2.167px">Total</text>
<text transform="translate(146.96 0) scale(1.07 1)" font-size="52" style="letter-spacing:3.632px">dynamic</text>
<text transform="translate(394.84 0) scale(1.07 1)" font-size="52" style="letter-spacing:4.039px">head</text>
<text transform="translate(547.44 0) scale(1.07 1)" font-size="52" style="letter-spacing:4.713px">H(m)</text>
</g>
<path d="M124.3 475.3 L153.7 475.3 L139.2 446.8 Z" fill="#262626"/>
<path d="M134.5 469.5 L143.9 469.5 L139.2 459 Z" fill="#4a4a4a"/>
</g>
<g id="title" fill="#0d9040" stroke="#078233" stroke-width="6.5" stroke-linejoin="round" paint-order="stroke fill">
<text transform="translate(333.02 180.35) scale(0.6775 1.0000)" font-size="100" font-weight="bold" >C</text>
<text transform="translate(385.89 180.35) scale(0.7657 1.0000)" font-size="100" font-weight="bold" >U</text>
<text transform="translate(445.54 180.35) scale(0.7145 1.0000)" font-size="100" font-weight="bold" >R</text>
<text transform="translate(504.48 180.35) scale(0.7726 1.0000)" font-size="100" font-weight="bold" >V</text>
<text transform="translate(552.89 180.35) scale(0.7705 1.0000)" font-size="100" font-weight="bold" >A</text>
<text transform="translate(629.91 180.35) scale(0.7519 1.0000)" font-size="100" font-weight="bold" >D</text>
<text transform="translate(688.12 180.35) scale(0.6341 1.0000)" font-size="100" font-weight="bold" >E</text>
<text transform="translate(751.11 180.35) scale(0.7519 1.0000)" font-size="100" font-weight="bold" >D</text>
<text transform="translate(808.28 180.35) scale(0.6166 1.0000)" font-size="100" font-weight="bold" >E</text>
<text transform="translate(854.83 180.35) scale(0.6143 1.0000)" font-size="100" font-weight="bold" >S</text>
<text transform="translate(898.27 180.35) scale(0.6469 1.0000)" font-size="100" font-weight="bold" >E</text>
<text transform="translate(945.30 180.35) scale(0.8440 1.0000)" font-size="100" font-weight="bold" >M</text>
<text transform="translate(1019.54 180.35) scale(0.8020 1.0000)" font-size="100" font-weight="bold" >P</text>
<text transform="translate(1077.33 180.35) scale(0.6310 1.0000)" font-size="100" font-weight="bold" >E</text>
<text transform="translate(1123.00 180.35) scale(0.7857 1.0000)" font-size="100" font-weight="bold" >N</text>
<text transform="translate(1183.76 180.35) scale(0.7980 1.0000)" font-size="100" font-weight="bold" >H</text>
<text transform="translate(1243.88 180.35) scale(0.7331 1.0000)" font-size="100" font-weight="bold" >O</text>
</g>
<g id="art">
<rect x="1407.3" y="553.5" width="16.7" height="116.5" fill="#0a8a36"/>
<rect x="1407.3" y="592.5" width="16.7" height="2" fill="#74e6bd"/>
<rect x="1407.3" y="631.5" width="16.7" height="2" fill="#74e6bd"/>
<rect x="1422.8" y="670" width="1.2" height="268" fill="#b8b8b8"/>
<rect x="1407.3" y="701.7" width="16" height="28" fill="#dcdfde"/>
<rect x="1407.3" y="761.7" width="16" height="28" fill="#dcdfde"/>
<rect x="1407.3" y="820.7" width="16" height="28" fill="#dcdfde"/>
<rect x="1407.3" y="880" width="16" height="28" fill="#dcdfde"/>
<rect x="82.7" y="553.5" width="10" height="116.5" fill="#0a8a36"/>
<rect x="83" y="670" width="1.2" height="268" fill="#b8b8b8"/>
<rect x="84.5" y="701.7" width="8.2" height="28" fill="#dcdfde"/>
<rect x="84.5" y="761.7" width="8.2" height="28" fill="#dcdfde"/>
<rect x="84.5" y="820.7" width="8.2" height="28" fill="#dcdfde"/>
<rect x="84.5" y="880" width="8.2" height="28" fill="#dcdfde"/>
</g>
</svg></body></html>
